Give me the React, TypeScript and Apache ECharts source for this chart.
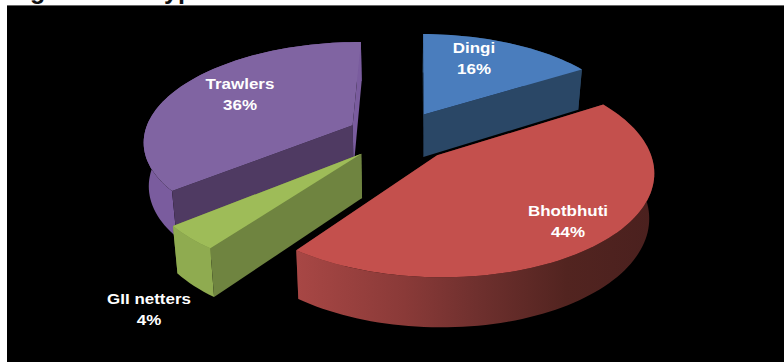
import React, { useEffect, useRef } from "react";
import * as echarts from "echarts";

const categories = ["Dingi", "Bhotbhuti", "GII netters", "Trawlers"];
const shares = [16, 44, 4, 36];

// Paint order, back slices first
const paintRank = [1, 3, 2, 0];
const topColors = ["#4a7dbd", "#c4504d", "#9ebc58", "#8064a2"];
const startWallColors = ["#2a4766", "#5a2826", "#6f8440", "#4f3a62"];
const endWallColors = ["#2a4766", "#5a2826", "#6f8440", "#7a5c9e"];
// Stacking of the radial walls relative to the outer wall (2)
const startWallZ = [1, 1, 3, 3];
const endWallZ = [3, 1, 1, 3];
const labelX = [474, 568, 149, 240];
const labelY = [58, 221, 309, 94];

// Perspective view of the tilted disc, with each slice pulled out along its bisector
const view = {
  xu: 208.44, xv: 60.84, x0: 398.56,
  yu: 0.87, yv: -78.25, y0: 135.57,
  wu: 0.0002, wv: 0.1454,
};
const explode = [0.2533, 0.2664, 0.2507, 0.2489];

const project = (u: number, v: number) => {
  const w = view.wu * u + view.wv * v + 1;
  return [(view.xu * u + view.xv * v + view.x0) / w, (view.yu * u + view.yv * v + view.y0) / w];
};

// Lower rim of the pie, converging slightly towards the vanishing point
const lower = (p: number[]) => [p[0] + (400 - p[0]) * 0.02, p[1] + 37 + 0.047 * p[1]];

const renderSlice = (params: any) => {
  const i = params.dataIndex;
  const total = shares.reduce((a, b) => a + b, 0);
  const before = shares.slice(0, i).reduce((a, b) => a + b, 0);
  const a0 = (before / total) * Math.PI * 2;
  const a1 = ((before + shares[i]) / total) * Math.PI * 2;
  const mid = (a0 + a1) / 2;
  const ex = explode[i] * Math.sin(mid);
  const ey = explode[i] * Math.cos(mid);

  const center = project(ex, ey);
  const arc: number[][] = [];
  const steps = Math.max(6, Math.round(shares[i] * 2));
  for (let k = 0; k <= steps; k++) {
    const t = a0 + ((a1 - a0) * k) / steps;
    arc.push(project(ex + Math.sin(t), ey + Math.cos(t)));
  }
  const arcLow = arc.map(lower);
  const base = paintRank[i] * 10;

  const outerFill =
    i === 1
      ? new echarts.graphic.LinearGradient(296, 0, 657, 0, [
          { offset: 0, color: "#a84745" },
          { offset: 0.3, color: "#8a3a38" },
          { offset: 0.5, color: "#6f302e" },
          { offset: 0.75, color: "#522420" },
          { offset: 1, color: "#4a201e" },
        ], true)
      : i === 2
        ? "#8fab50"
        : i === 3
          ? "#7a5c9e"
          : "#2a4766";

  const face = (points: number[][], fill: any, z2: number) => ({
    type: "polygon",
    z2: base + z2,
    shape: { points },
    style: { fill, stroke: "none" },
  });

  const first = arc[0];
  const last = arc[arc.length - 1];
  const centerLow = lower(center);
  return {
    type: "group",
    children: [
      face([first, center, centerLow, arcLow[0]], startWallColors[i], startWallZ[i]),
      face([last, center, centerLow, arcLow[arcLow.length - 1]], endWallColors[i], endWallZ[i]),
      face([...arc, ...arcLow.slice().reverse()], outerFill, 2),
      face([center, ...arc], topColors[i], 5),
      {
        type: "text",
        z2: 100,
        x: labelX[i],
        y: labelY[i],
        scaleX: 1.13,
        style: {
          text: `${categories[i]}\n${shares[i]}%`,
          fontFamily: "Liberation Sans",
          fontWeight: "bold",
          fontSize: 15,
          lineHeight: 21,
          fill: "#ffffff",
          align: "center",
          verticalAlign: "middle",
        },
      },
    ],
  };
};

export default function App() {
  const ref = useRef<HTMLDivElement>(null);
  useEffect(() => {
    const chart = echarts.init(ref.current!, null, { renderer: "svg" });
    chart.setOption({
      animation: false,
      backgroundColor: "#ffffff",
      graphic: [
        {
          type: "text",
          x: 30,
          y: -23,
          style: { text: "g", fontFamily: "Liberation Sans", fontWeight: "bold", fontSize: 25, fill: "#111" },
        },
        {
          type: "text",
          x: 164,
          y: -23,
          style: { text: "yp", fontFamily: "Liberation Sans", fontWeight: "bold", fontSize: 25, fill: "#111" },
        },
        { type: "rect", shape: { x: 7, y: 5, width: 777, height: 357 }, style: { fill: "#000000" } },
        { type: "rect", shape: { x: 7, y: 5, width: 777, height: 1 }, style: { fill: "#666666" } },
      ],
      series: [
        {
          type: "custom",
          coordinateSystem: "none",
          data: shares.map((value, idx) => ({ name: categories[idx], value })),
          renderItem: renderSlice,
        },
      ],
    });
    return () => chart.dispose();
  }, []);
  return (
    <div
      ref={ref}
      style={{ position: "fixed", left: 0, top: 0, width: 784, height: 362, overflow: "hidden" }}
    />
  );
}
